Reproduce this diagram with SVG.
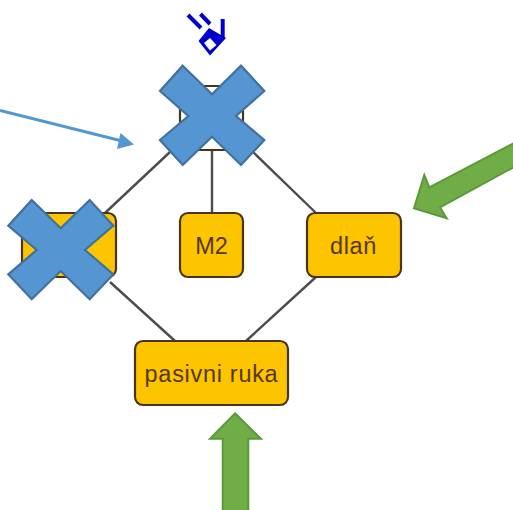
<svg xmlns="http://www.w3.org/2000/svg" width="513" height="510" viewBox="0 0 513 510">
<style>
.n{fill:#fdc500;stroke:#4a3418;stroke-width:2.200}
.t{font-family:"Liberation Sans",Arial,sans-serif;font-size:23.500px;letter-spacing:.7px;fill:#553808;text-anchor:middle}
.c{stroke:#4d4d4d;stroke-width:2.400;fill:none}
.x{fill:#5596d2;stroke:#41719c;stroke-width:2.200;stroke-linejoin:miter}
.g{fill:#70ad47;stroke:#5a9a3c;stroke-width:2}
.i{fill:none;stroke:#0000cc}
</style>
<rect width="513" height="510" fill="#fff"/>
<g id="connectors">
<path class="c" d="M212 150V213M170 152L105 213M253 152L316 213M110 282L175 341M316 277L246 341"/>
</g>
<g id="node-top"><rect class="n" style="fill:#fff" x="180" y="86" width="63" height="64" rx="2"/></g>
<g id="node-left"><rect class="n" x="22" y="213" width="94" height="64" rx="8"/></g>
<g id="node-m2"><rect class="n" x="180" y="213" width="63" height="64" rx="8"/><text class="t" style="letter-spacing:0" x="211.500" y="254">M2</text></g>
<g id="node-dlan"><rect class="n" x="307" y="213" width="94" height="64" rx="8"/><text class="t" x="353.500" y="254">dlaň</text></g>
<g id="node-pasivni"><rect class="n" x="135" y="341" width="153" height="64" rx="8"/><text class="t" x="211.500" y="382">pasivni ruka</text></g>
<g id="icon">
<path class="i" stroke-width="4" d="M188 15L201 28M200.500 14L210 24"/>
<path class="i" stroke-width="4" d="M222.700 19V38"/>
<path fill="#0000cc" d="M198.500 41L209 28L226 38L210 55.500Z"/>
<path fill="#fff" d="M204 43L210 38L216.500 45L210 50.500Z"/>
</g>
<g id="arrow-blue">
<path d="M0 110.500L122 141" stroke="#5596d2" stroke-width="3" fill="none"/>
<path d="M134 144.500L120.500 133L117 149Z" fill="#5596d2"/>
</g>
<g id="cross-top"><path class="x" d="M182.700 65.700L212 94.300L241 65.700L264.300 91L236 116L264.300 140L241 165L212 136.700L182.700 165L160 140L188.300 116L160 91Z"/></g>
<g id="cross-left"><path class="x" d="M31.700 200L60.700 228.300L89.700 200L113.300 225.700L85 250L113.300 274.300L89.700 299.300L60.700 271L31.700 299.300L8.300 274.300L36.700 250L8.300 225.700Z"/></g>
<g id="arrow-green-up"><path class="g" d="M235 413.300L261 438.700H248.300V511H222.700V438.700H210Z"/></g>
<g id="arrow-green-right"><path class="g" d="M414 208.300L424.300 175L429.300 187.300L514 143V167L440 207.300L446.700 218.300Z"/></g>
</svg>
